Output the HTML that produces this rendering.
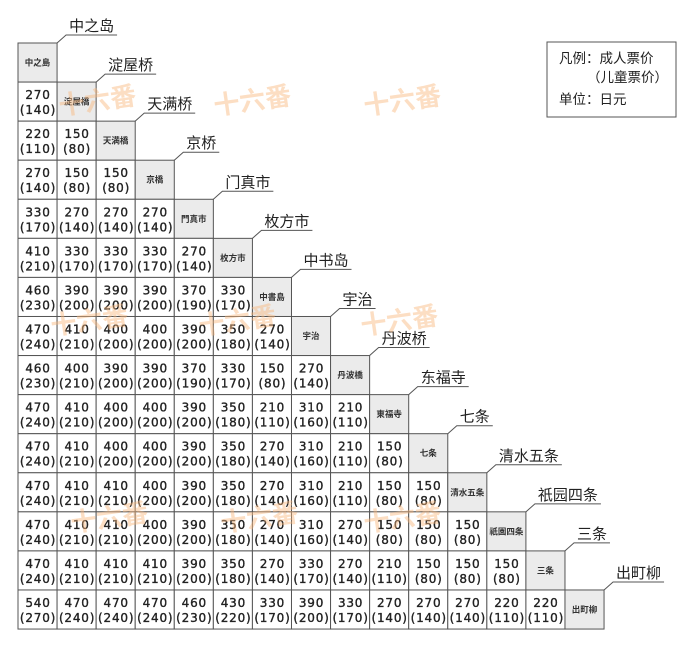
<!DOCTYPE html>
<html><head><meta charset="utf-8"><style>
html,body{margin:0;padding:0;background:#fff;}
svg{display:block;}
.n{font-family:"DejaVu Sans","Liberation Sans",sans-serif;font-size:12px;font-weight:normal;fill:#222;text-anchor:middle;letter-spacing:0.8px;stroke:#222;stroke-width:0.35px;}
.d{font-family:"Liberation Sans","Noto Sans CJK JP",sans-serif;font-size:8.5px;font-weight:bold;fill:#333;text-anchor:middle;}
.l{font-family:"Liberation Sans","Noto Sans CJK SC",sans-serif;font-size:15px;fill:#222;}
.w{font-family:"Liberation Sans","Noto Sans CJK SC",sans-serif;font-size:26px;font-weight:bold;fill:#f9b77c;opacity:0.45;}
.g{font-family:"Liberation Sans","Noto Sans CJK SC",sans-serif;font-size:13.5px;fill:#222;}
</style></head><body>
<svg id="s" width="681" height="648" xmlns="http://www.w3.org/2000/svg">
<rect x="547" y="42" width="129" height="75" fill="#fff" stroke="#555" stroke-width="1"/>
<text class="g" x="559" y="63">凡例：成人票价</text>
<text class="g" x="587" y="82">（儿童票价）</text>
<text class="g" x="559" y="104">单位：日元</text>
<g id="grid"></g>
</svg>
<script>
var jp=["中之島","淀屋橋","天満橋","京橋","門真市","枚方市","中書島","宇治","丹波橋","東福寺","七条","清水五条","祇園四条","三条","出町柳"];
var cn=["中之岛","淀屋桥","天满桥","京桥","门真市","枚方市","中书岛","宇治","丹波桥","东福寺","七条","清水五条","祇园四条","三条","出町柳"];
var data=[
[],
["270(140)"],
["220(110)","150(80)"],
["270(140)","150(80)","150(80)"],
["330(170)","270(140)","270(140)","270(140)"],
["410(210)","330(170)","330(170)","330(170)","270(140)"],
["460(230)","390(200)","390(200)","390(200)","370(190)","330(170)"],
["470(240)","410(210)","400(200)","400(200)","390(200)","350(180)","270(140)"],
["460(230)","400(210)","390(200)","390(200)","370(190)","330(170)","150(80)","270(140)"],
["470(240)","410(210)","400(200)","400(200)","390(200)","350(180)","210(110)","310(160)","210(110)"],
["470(240)","410(210)","400(200)","400(200)","390(200)","350(180)","270(140)","310(160)","210(110)","150(80)"],
["470(240)","410(210)","410(210)","400(200)","390(200)","350(180)","270(140)","310(160)","210(110)","150(80)","150(80)"],
["470(240)","410(210)","410(210)","400(200)","390(200)","350(180)","270(140)","310(160)","270(140)","150(80)","150(80)","150(80)"],
["470(240)","410(210)","410(210)","410(210)","390(200)","350(180)","270(140)","330(170)","270(140)","210(110)","150(80)","150(80)","150(80)"],
["540(270)","470(240)","470(240)","470(240)","460(230)","430(220)","330(170)","390(200)","330(170)","270(140)","270(140)","270(140)","220(110)","220(110)"]
];
var X0=18,Y0=43,C=39.07,h="";
for(var r=0;r<15;r++){
 for(var c=0;c<=r;c++){
  var x=X0+c*C,y=Y0+r*C;
  if(c==r){
   h+='<rect x="'+x+'" y="'+y+'" width="'+C+'" height="'+C+'" fill="#ebebeb" stroke="#555" stroke-width="1"/>';
   h+='<text class="d" x="'+(x+C/2)+'" y="'+(y+C/2+3)+'">'+jp[r]+'</text>';
  }else{
   h+='<rect x="'+x+'" y="'+y+'" width="'+C+'" height="'+C+'" fill="#fff" stroke="#555" stroke-width="1"/>';
   var v=data[r][c],p=v.indexOf("(");
   h+='<text class="n" x="'+(x+C/2+0.5)+'" y="'+(y+17)+'">'+v.slice(0,p)+'</text>';
   h+='<text class="n" x="'+(x+C/2+0.5)+'" y="'+(y+32)+'">'+v.slice(p)+'</text>';
  }
 }
 var cx=X0+(r+1)*C,cy=Y0+r*C,n=cn[r].length;
 var le=cx+12+n*15+3;
 h+='<polyline points="'+cx+','+cy+' '+(cx+9)+','+(cy-8)+' '+le+','+(cy-8)+'" fill="none" stroke="#555" stroke-width="1"/>';
 h+='<text class="l" x="'+(cx+12)+'" y="'+(cy-12)+'">'+cn[r]+'</text>';
}
var wm=[[60,115],[215,115],[365,115],[52,335],[200,335],[362,335],[72,532],[222,532],[365,532]];
for(var i=0;i<wm.length;i++){h+='<text class="w" x="'+wm[i][0]+'" y="'+wm[i][1]+'" transform="rotate(-8 '+wm[i][0]+' '+wm[i][1]+')">十六番</text>';}
document.getElementById("grid").innerHTML=h;
</script>
</body></html>
